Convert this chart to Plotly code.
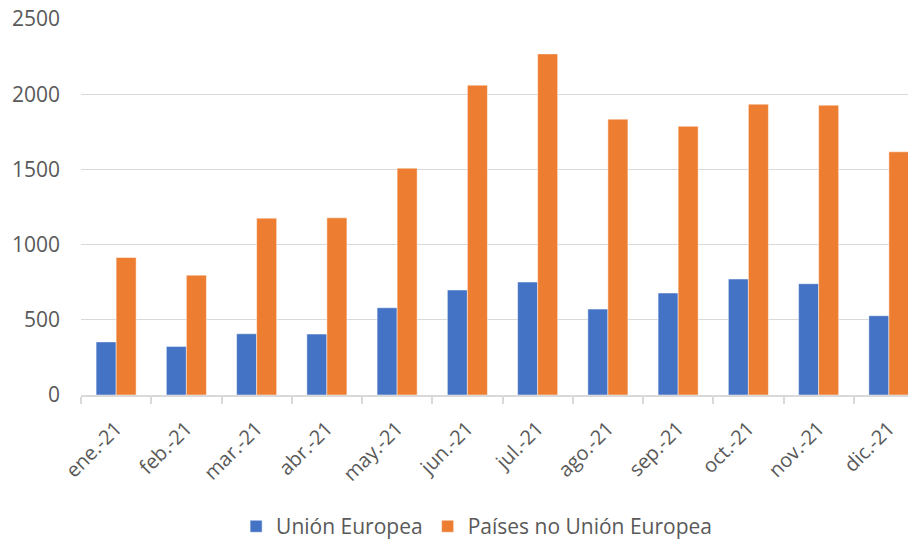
import plotly.graph_objects as go

categories = ["ene.-21", "feb.-21", "mar.-21", "abr.-21", "may.-21", "jun.-21",
              "jul.-21", "ago.-21", "sep.-21", "oct.-21", "nov.-21", "dic.-21"]
ue = [353, 323, 407, 405, 580, 698, 751, 571, 678, 771, 740, 527]
no_ue = [914, 797, 1176, 1178, 1508, 2060, 2268, 1834, 1787, 1934, 1927, 1617]
y_ticks = [0, 500, 1000, 1500, 2000, 2500]

FONT = "Open Sans"
GRAY = "#595959"

fig = go.Figure()
fig.add_trace(go.Bar(x=categories, y=ue, name="Unión Europea",
                     marker=dict(color="#4472C4", line=dict(color="rgba(255,255,255,0.6)", width=0.8))))
fig.add_trace(go.Bar(x=categories, y=no_ue, name="Países no Unión Europea",
                     marker=dict(color="#ED7D31", line=dict(color="rgba(255,255,255,0.6)", width=0.8))))

fig.update_layout(
    width=916, height=542,
    margin=dict(l=73, r=0, t=11, b=155),
    plot_bgcolor="white", paper_bgcolor="white",
    barmode="group", bargap=0.43, bargroupgap=0,
    font=dict(family=FONT, color=GRAY, size=20),
    legend=dict(orientation="h", x=0.184, xanchor="left", y=-0.35, yanchor="middle",
                font=dict(size=21, color=GRAY), itemwidth=30, traceorder="normal"),
    xaxis=dict(range=[-0.5, 11.5], tickangle=-45, showgrid=False, automargin=False,
               showline=True, linecolor="#d9d9d9", linewidth=1.5,
               ticks="outside", ticklen=7, tickcolor="#d9d9d9", tickwidth=1.5,
               tickson="boundaries", tickfont=dict(size=20, color=GRAY),
               ticklabelstandoff=12, ticklabeloverflow="allow"),
    yaxis=dict(range=[0, 2500], tickvals=y_ticks, showgrid=True, gridcolor="#d9d9d9",
               gridwidth=1.2, zeroline=False, showline=False, automargin=False,
               tickfont=dict(size=21, color=GRAY), ticklabelstandoff=20,
               ticklabeloverflow="allow"),
)

fig.write_html("out.html", config={"displayModeBar": False})
